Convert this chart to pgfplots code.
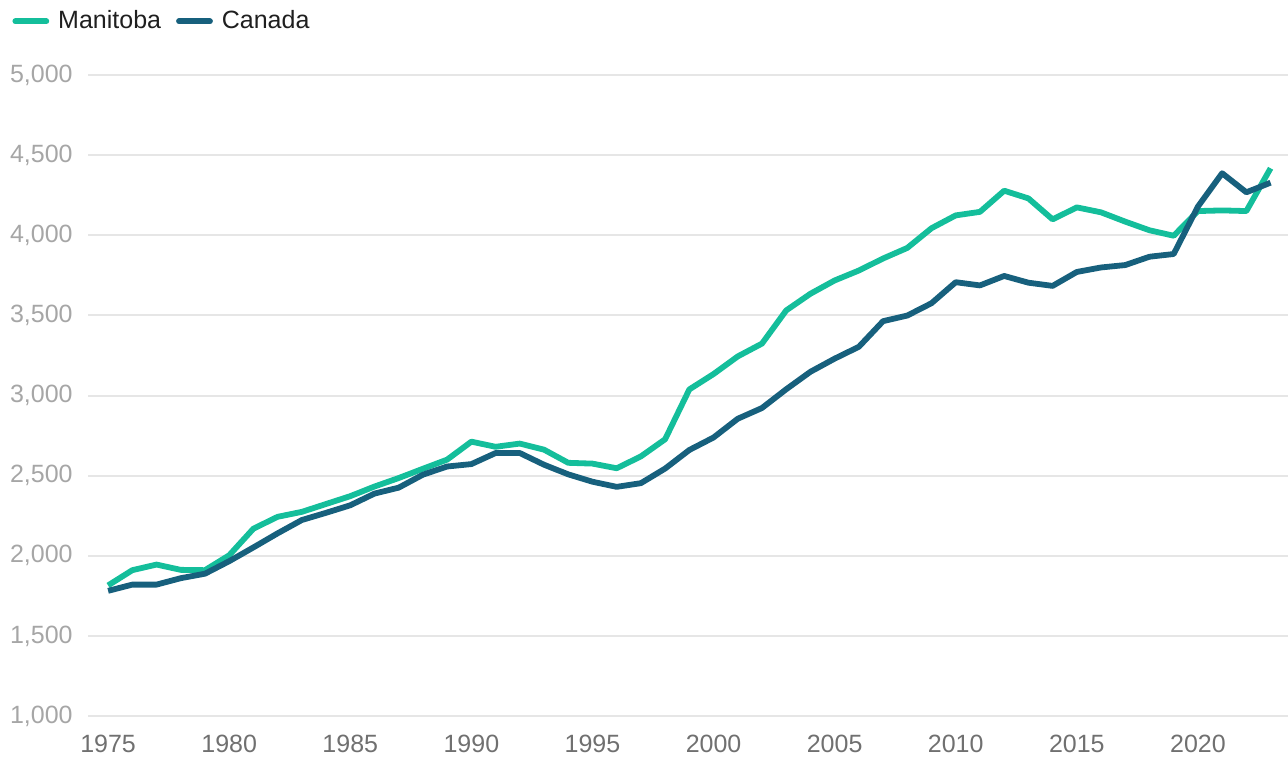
\documentclass[border=0pt]{standalone}
\usepackage{fontspec}
\setmainfont{Liberation Sans}
\usepackage{pgfplots}
\pgfplotsset{compat=1.18}
\definecolor{mb}{HTML}{14BE9B}
\definecolor{ca}{HTML}{17607D}
\definecolor{gridc}{HTML}{E6E6E6}
\definecolor{ylab}{HTML}{A6A6A6}
\definecolor{xlab}{HTML}{707070}
\begin{document}
\fontsize{12.5}{15}\selectfont
\begin{tikzpicture}
\useasboundingbox (0,0) rectangle (644pt,378pt);
\begin{axis}[
  at={(44pt,20pt)}, anchor=south west,
  scale only axis, width=600pt, height=320.5pt,
  xmin=1974.17, xmax=2023.72, ymin=1000, ymax=5000,
  enlargelimits=false, clip=false,
  axis line style={draw=none},
  tick style={draw=none}, major tick length=0pt,
  xtick={1975,1980,...,2020},
  ytick={1000,1500,...,5000},
  scaled ticks=false,
  ymajorgrids, grid style={gridc, line width=1pt},
  /pgf/number format/assume math mode=true,
  x tick label style={/pgf/number format/.cd, 1000 sep={}, /tikz/.cd, font=\fontsize{12.5}{15}\selectfont, text=xlab, anchor=north, inner sep=0pt, yshift=-9.5pt},
  y tick label style={/pgf/number format/.cd, 1000 sep={,}, /tikz/.cd, font=\fontsize{12.5}{15}\selectfont, text=ylab, anchor=east, inner sep=0pt, xshift=-7.5pt},
  legend style={at={(-0.0633,1.1045)}, anchor=north west, draw=none, fill=none,
    inner sep=0pt, font=\fontsize{12.5}{15}\selectfont, text=black!88,
    nodes={inner sep=1pt},
    /tikz/every odd column/.append style={column sep=3.5pt},
    /tikz/every even column/.append style={column sep=6.5pt}},
  legend columns=-1,
  legend image code/.code={\draw[#1, line cap=round] (0pt,0pt) -- (15.5pt,0pt);},
]
\addplot[mb, line width=2.9pt, line join=round] coordinates {
(1975,1815) (1976,1910) (1977,1945) (1978,1912) (1979,1910) (1980,2003)
(1981,2169) (1982,2243) (1983,2274) (1984,2323) (1985,2372) (1986,2432)
(1987,2485) (1988,2543) (1989,2600) (1990,2712) (1991,2680) (1992,2700)
(1993,2662) (1994,2580) (1995,2575) (1996,2546) (1997,2620) (1998,2727)
(1999,3038) (2000,3134) (2001,3244) (2002,3324) (2003,3531) (2004,3635)
(2005,3718) (2006,3780) (2007,3855) (2008,3921) (2009,4044) (2010,4124)
(2011,4146) (2012,4278) (2013,4230) (2014,4099) (2015,4174) (2016,4143)
(2017,4085) (2018,4031) (2019,3997) (2020,4151) (2021,4155) (2022,4151)
(2023,4418)};
\addlegendentry{Manitoba}
\addplot[ca, line width=2.9pt, line join=round] coordinates {
(1975,1781) (1976,1820) (1977,1820) (1978,1860) (1979,1888) (1980,1966)
(1981,2052) (1982,2140) (1983,2223) (1984,2268) (1985,2315) (1986,2388)
(1987,2425) (1988,2506) (1989,2557) (1990,2572) (1991,2641) (1992,2641)
(1993,2568) (1994,2508) (1995,2462) (1996,2430) (1997,2453) (1998,2544)
(1999,2660) (2000,2738) (2001,2855) (2002,2922) (2003,3039) (2004,3148)
(2005,3230) (2006,3304) (2007,3464) (2008,3499) (2009,3576) (2010,3707)
(2011,3687) (2012,3746) (2013,3704) (2014,3684) (2015,3771) (2016,3799)
(2017,3814) (2018,3866) (2019,3883) (2020,4179) (2021,4387) (2022,4268)
(2023,4328)};
\addlegendentry{Canada}
\end{axis}
\end{tikzpicture}
\end{document}
